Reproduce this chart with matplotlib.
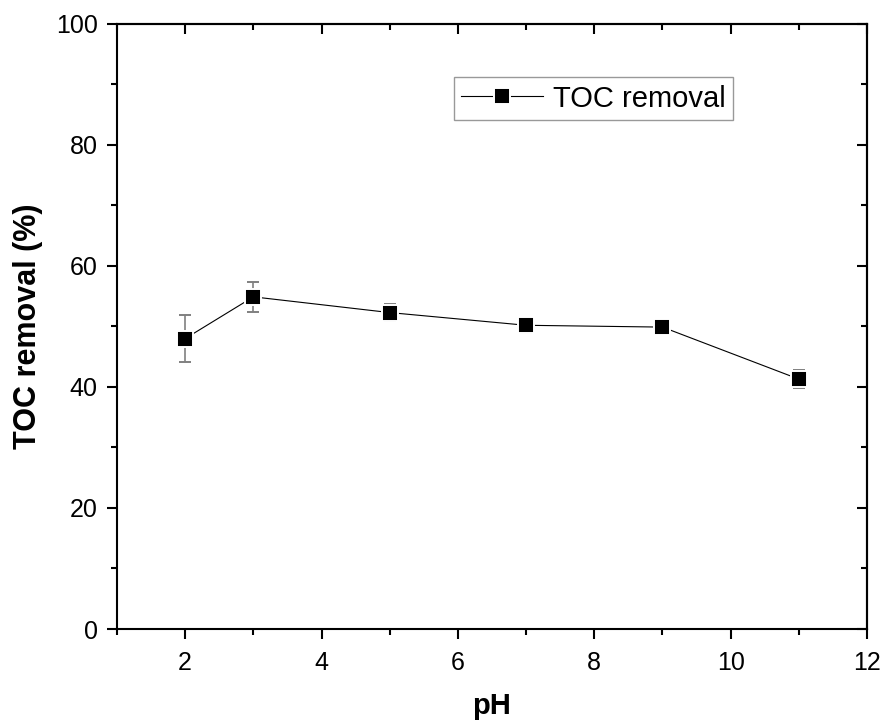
import matplotlib
matplotlib.use("Agg")
import matplotlib.pyplot as plt
from matplotlib.ticker import MultipleLocator
from matplotlib.lines import Line2D

plt.rcParams['font.family'] = ['Liberation Sans', 'DejaVu Sans']

ph = [2, 3, 5, 7, 9, 11]
toc_removal = [48.0, 54.9, 52.3, 50.2, 49.9, 41.3]
toc_err = [3.9, 2.5, 1.4, 1.2, 1.2, 1.5]

fig = plt.figure(figsize=(8.87, 7.27), dpi=100)
ax = fig.add_axes([0.1319, 0.1348, 0.8456, 0.8322])

ax.errorbar(ph, toc_removal, yerr=toc_err, fmt='-', color='black', lw=0.8,
            marker='s', ms=11, mfc='black', mec='white', mew=1.4,
            ecolor='#808080', elinewidth=1.2, capsize=4.5, capthick=1.2)

ax.set_xlim(1, 12)
ax.set_ylim(0, 100)
ax.xaxis.set_major_locator(MultipleLocator(2))
ax.xaxis.set_minor_locator(MultipleLocator(1))
ax.yaxis.set_major_locator(MultipleLocator(20))
ax.yaxis.set_minor_locator(MultipleLocator(10))

for s in ax.spines.values():
    s.set_linewidth(1.5)

ax.tick_params(which='both', direction='out', width=1.5, labelsize=18,
               top=False, right=False)
ax.tick_params(axis='x', pad=9)
ax.tick_params(axis='y', pad=7)
ax.tick_params(which='major', length=7)
ax.tick_params(which='minor', length=4.5)

# inward ticks on top and right
axt = ax.secondary_xaxis('top')
axt.xaxis.set_major_locator(MultipleLocator(2))
axt.xaxis.set_minor_locator(MultipleLocator(1))
axt.tick_params(which='both', direction='in', width=1.5, labeltop=False)
axt.tick_params(which='major', length=7)
axt.tick_params(which='minor', length=4)
axt.spines['top'].set_linewidth(1.5)
axr = ax.secondary_yaxis('right')
axr.yaxis.set_major_locator(MultipleLocator(20))
axr.yaxis.set_minor_locator(MultipleLocator(10))
axr.tick_params(which='both', direction='in', width=1.5, labelright=False)
axr.tick_params(which='major', length=7)
axr.tick_params(which='minor', length=4)
axr.spines['right'].set_linewidth(1.5)

ax.set_xlabel('pH', fontsize=21, fontweight='bold', labelpad=12)
ax.set_ylabel('TOC removal (%)', fontsize=22, fontweight='bold', labelpad=9)

handle = Line2D([], [], color='black', lw=0.8, marker='s', ms=11, mfc='black',
                mec='white', mew=1.4)
leg = ax.legend([handle], ['TOC removal'], loc='upper left',
                bbox_to_anchor=(0.449, 0.912), borderaxespad=0,
                fontsize=21, frameon=True, fancybox=False, handlelength=2.8,
                handletextpad=0.35, borderpad=0.25, edgecolor='#808080')
leg.get_frame().set_linewidth(1.0)

fig.savefig('out.png', dpi=100)
